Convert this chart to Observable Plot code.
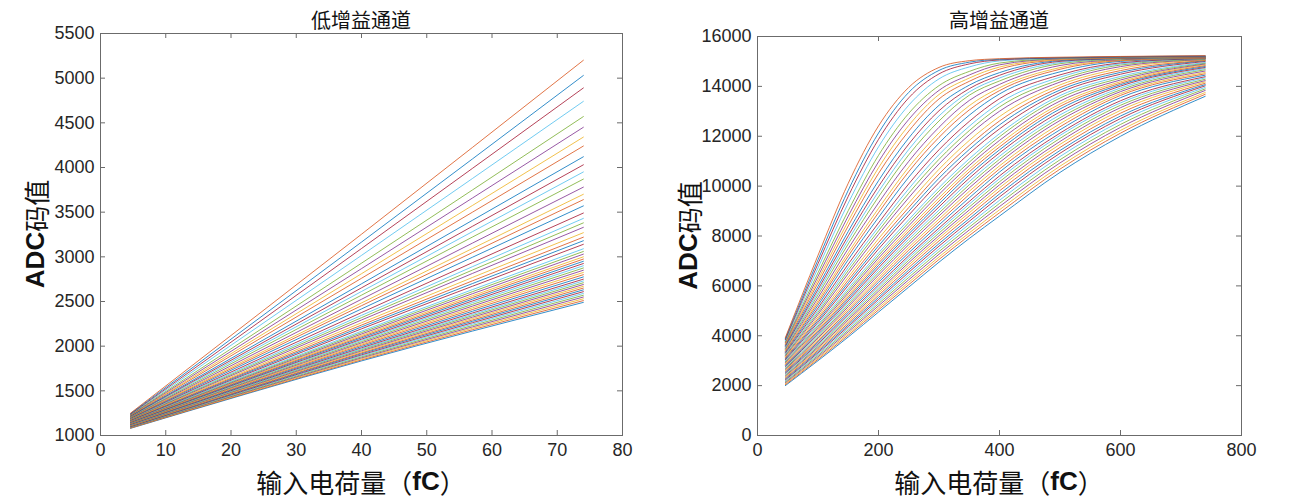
<!DOCTYPE html>
<html><head><meta charset="utf-8">
<script src="https://cdn.jsdelivr.net/npm/d3@7"></script>
<script src="https://cdn.jsdelivr.net/npm/@observablehq/plot@0.6"></script>
<style>
body{margin:0;background:#fff;width:1304px;height:501px;overflow:hidden;position:relative}
.panel{position:absolute;top:0}
</style></head><body>
<div id="left" class="panel" style="left:0"></div>
<div id="right" class="panel" style="left:650px"></div>
<script>
// MATLAB default line colour order
const matlabColors = ["#0072BD","#D95319","#EDB120","#7E2F8E","#77AC30","#4DBEEE","#A2142F"];

// ---- Low-gain channel (left): 51 curves, values at three charges ----
const lowX = [4.6, 40, 74];
const lowStart = [1080,1083,1087,1090,1094,1097,1100,1104,1107,1110,1114,1117,1120,1124,1127,1130,1134,1137,1140,1144,1147,1150,1154,1157,1160,1164,1167,1170,1174,1177,1180,1184,1187,1190,1194,1197,1200,1204,1207,1210,1214,1217,1220,1224,1227,1230,1234,1237,1240,1245,1250];
const lowMid = [1835,1846,1858,1869,1880,1892,1903,1915,1925,1937,1948,1960,1970,1982,1996,2010,2023,2037,2051,2065,2078,2093,2106,2120,2136,2152,2168,2194,2215,2236,2262,2293,2319,2345,2376,2417,2453,2484,2525,2571,2612,2653,2698,2760,2811,2868,2929,3016,3093,3165,3253];
const lowEnd = [2490,2510,2530,2550,2570,2590,2610,2630,2650,2670,2690,2710,2730,2750,2775,2800,2825,2850,2875,2900,2925,2950,2975,3000,3030,3060,3090,3140,3180,3220,3270,3330,3380,3430,3490,3570,3640,3700,3780,3870,3950,4030,4120,4240,4340,4450,4570,4740,4890,5030,5200];

// ---- High-gain channel (right): 51 curves, values at eleven charges ----
const highX = [46,100,150,200,250,300,350,400,500,600,740];
const high046 = [2000,2038,2077,2115,2154,2192,2230,2269,2307,2346,2384,2422,2461,2499,2538,2576,2614,2653,2691,2730,2768,2806,2845,2883,2922,2960,2998,3037,3075,3114,3152,3190,3229,3267,3306,3344,3382,3421,3459,3498,3536,3574,3613,3651,3690,3728,3766,3805,3843,3882,3920];
const high100 = [3000,3053,3105,3156,3209,3260,3314,3365,3418,3471,3523,3574,3627,3678,3737,3792,3847,3906,3962,4020,4082,4142,4200,4260,4324,4388,4452,4534,4608,4680,4762,4854,4936,5018,5108,5218,5318,5408,5518,5638,5744,5854,5974,6118,6246,6380,6524,6716,6888,7045,7224];
const high150 = [3950,4020,4088,4158,4226,4296,4368,4434,4504,4576,4644,4714,4784,4852,4932,5010,5086,5166,5244,5320,5400,5480,5556,5636,5722,5810,5898,6020,6124,6230,6352,6492,6614,6738,6874,7049,7197,7330,7497,7683,7847,8008,8184,8404,8595,8798,9018,9320,9592,9833,10115];
const high200 = [4950,5036,5116,5200,5284,5368,5454,5534,5620,5706,5788,5874,5958,6038,6140,6234,6328,6430,6524,6618,6720,6818,6912,7007,7112,7218,7322,7476,7607,7737,7890,8062,8208,8357,8523,8744,8937,9106,9326,9570,9778,9986,10217,10509,10736,10975,11233,11574,11874,12128,12413];
const high250 = [5950,6050,6144,6244,6340,6440,6542,6634,6734,6836,6932,7028,7123,7212,7326,7435,7541,7655,7763,7870,7979,8085,8186,8292,8411,8534,8654,8836,8987,9140,9322,9536,9717,9894,10090,10358,10583,10762,10994,11255,11469,11686,11930,12206,12434,12674,12918,13246,13540,13760,13960];
const high300 = [6950,7060,7161,7269,7376,7484,7594,7695,7805,7914,8013,8118,8220,8316,8444,8561,8678,8805,8922,9039,9167,9290,9407,9529,9669,9807,9940,10145,10317,10487,10676,10892,11074,11261,11458,11726,11955,12133,12360,12613,12815,13022,13240,13495,13673,13840,14030,14300,14500,14640,14760];
const high350 = [7900,8017,8125,8242,8354,8471,8589,8696,8813,8931,9043,9160,9277,9385,9529,9664,9792,9928,10055,10181,10317,10450,10573,10690,10823,10961,11096,11307,11469,11633,11831,12056,12226,12401,12595,12844,13055,13227,13435,13645,13776,13909,14049,14202,14332,14457,14600,14780,14900,14970,15030];
const high400 = [8800,8931,9050,9180,9306,9431,9567,9686,9810,9935,10052,10176,10298,10411,10564,10688,10813,10949,11074,11198,11332,11454,11570,11692,11833,11979,12103,12296,12456,12613,12790,13003,13175,13332,13506,13696,13830,13946,14080,14217,14335,14444,14551,14689,14775,14864,14935,15020,15060,15085,15110];
const high500 = [10550,10682,10800,10931,11057,11187,11318,11429,11552,11675,11791,11915,12031,12126,12259,12380,12502,12632,12743,12854,12976,13093,13196,13295,13412,13532,13631,13753,13853,13952,14058,14173,14269,14369,14462,14583,14686,14753,14837,14909,14955,15002,15033,15058,15081,15104,15117,15129,15140,15150,15170];
const high600 = [12000,12124,12234,12356,12474,12596,12710,12811,12925,13038,13145,13242,13338,13424,13547,13638,13710,13789,13861,13933,14010,14069,14126,14186,14256,14328,14398,14488,14561,14633,14716,14792,14855,14902,14943,15001,15031,15047,15068,15092,15111,15118,15126,15136,15145,15155,15165,15174,15180,15188,15200];
const high740 = [13600,13682,13754,13836,13897,13959,14021,14070,14125,14180,14231,14285,14340,14388,14449,14503,14556,14615,14668,14715,14757,14796,14834,14873,14902,14930,14956,14999,15025,15038,15055,15074,15091,15108,15115,15124,15132,15138,15147,15157,15166,15172,15176,15181,15186,15190,15196,15203,15210,15218,15230];

// ---- Axes / text ----
const lowXTicks = [0,10,20,30,40,50,60,70,80];
const lowYTicks = [1000,1500,2000,2500,3000,3500,4000,4500,5000,5500];
const highXTicks = [0,200,400,600,800];
const highYTicks = [0,2000,4000,6000,8000,10000,12000,14000,16000];
const titles = ["低增益通道", "高增益通道"];
const yLabelLatin = "ADC", yLabelCJK = "码值";
const xLabelCJK1 = "输入电荷量（", xLabelLatin = "fC", xLabelCJK2 = "）";

function toRows(xs, cols) {
  const rows = [];
  const n = cols[0].length;
  for (let i = 0; i < n; i++) {
    for (let j = 0; j < xs.length; j++) {
      rows.push({x: xs[j], y: cols[j][i], line: i, color: matlabColors[i % 7]});
    }
  }
  return rows;
}

const LATIN = '"Liberation Sans", Arimo, Arial, sans-serif';
const CJK = '"Noto Sans CJK SC", sans-serif';
const AXC = "#6b6b6b";

function panel(el, o) {
  const H = 501;
  const innerW = o.width - o.ml - o.mr;
  const innerH = H - o.mt - o.mb;
  const fmt = d3.format("d");
  const svg = Plot.plot({
    width: o.width, height: H,
    marginLeft: o.ml, marginRight: o.mr, marginTop: o.mt, marginBottom: o.mb,
    style: {fontFamily: LATIN, fontSize: "18px", color: "#262626", background: "transparent", overflow: "visible"},
    x: {domain: o.xDomain, label: null},
    y: {domain: o.yDomain, label: null},
    color: {type: "identity"},
    marks: [
      Plot.line(o.data, {x: "x", y: "y", z: "line", stroke: "color", strokeWidth: 1, strokeOpacity: 0.8, curve: "monotone-x"}),
      Plot.frame({stroke: AXC, strokeWidth: 1}),
      Plot.tickX(o.xTicks, {x: d => d, insetTop: innerH - 5, stroke: AXC}),
      Plot.tickX(o.xTicks, {x: d => d, insetBottom: innerH - 5, stroke: AXC}),
      Plot.tickY(o.yTicks, {y: d => d, insetRight: innerW - 5, stroke: AXC}),
      Plot.tickY(o.yTicks, {y: d => d, insetLeft: innerW - 5, stroke: AXC}),
      Plot.axisX({ticks: o.xTicks, tickSize: 0, tickPadding: 8, tickFormat: fmt, label: null}),
      Plot.axisY({ticks: o.yTicks, tickSize: 0, tickPadding: 6, tickFormat: fmt, label: null})
    ]
  });
  el.appendChild(svg);
  const s = d3.select(svg);
  const cx = o.ml + innerW / 2;
  // title
  s.append("text").attr("x", cx).attr("y", 19).attr("text-anchor", "middle")
    .attr("dominant-baseline", "central").attr("font-family", CJK).attr("font-size", 20)
    .attr("fill", "#111").text(o.title);
  // x label
  const xl = s.append("text").attr("x", cx).attr("y", 481).attr("text-anchor", "middle")
    .attr("dominant-baseline", "central").attr("font-size", 26).attr("fill", "#111");
  xl.append("tspan").attr("font-family", CJK).text(xLabelCJK1);
  xl.append("tspan").attr("font-family", LATIN).attr("font-weight", "bold").text(xLabelLatin);
  xl.append("tspan").attr("font-family", CJK).text(xLabelCJK2);
  // y label
  const yl = s.append("text").attr("transform", `translate(${o.ylx},${o.mt + innerH / 2}) rotate(-90)`)
    .attr("text-anchor", "middle").attr("dominant-baseline", "central").attr("font-size", 26).attr("fill", "#111");
  yl.append("tspan").attr("font-family", LATIN).attr("font-weight", "bold").text(yLabelLatin);
  yl.append("tspan").attr("font-family", CJK).text(yLabelCJK);
}

panel(document.getElementById("left"), {
  width: 650, ml: 100, mr: 28, mt: 33, mb: 66,
  xDomain: [0, 80], yDomain: [1000, 5500],
  xTicks: lowXTicks, yTicks: lowYTicks,
  data: toRows(lowX, [lowStart, lowMid, lowEnd]),
  title: titles[0], ylx: 35
});
panel(document.getElementById("right"), {
  width: 654, ml: 107, mr: 63, mt: 36, mb: 66,
  xDomain: [0, 800], yDomain: [0, 16000],
  xTicks: highXTicks, yTicks: highYTicks,
  data: toRows(highX, [high046, high100, high150, high200, high250, high300, high350, high400, high500, high600, high740]),
  title: titles[1], ylx: 38
});
</script>
</body></html>
